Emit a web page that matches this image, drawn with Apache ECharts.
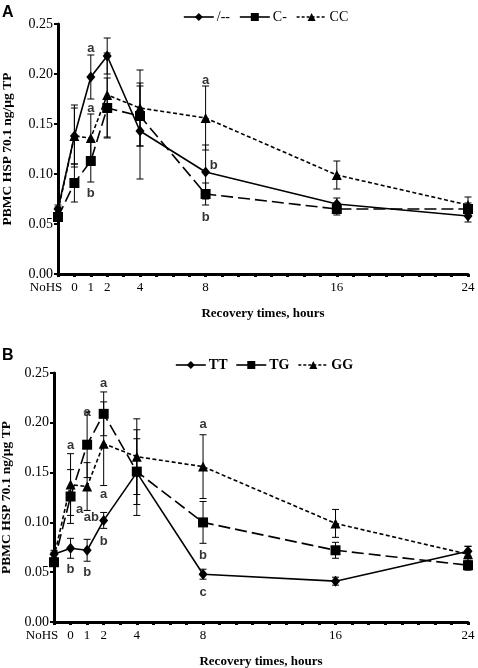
<!DOCTYPE html>
<html><head><meta charset="utf-8">
<script src="https://cdn.jsdelivr.net/npm/echarts@6/dist/echarts.min.js"></script>
<style>html,body{margin:0;padding:0;background:#fff}#c{width:478px;height:668px}</style>
</head><body><div id="c"></div>
<script>
// ---- data ----
const hours = [-1, 0, 1, 2, 4, 8, 16, 24];
const labelHours = [0, 1, 2, 4, 8, 16, 24];
const noHsHour = -1;
const noHsLabel = 'NoHS';
const yAxisTitle = 'PBMC HSP 70.1 ng/µg TP';
const xAxisTitle = 'Recovery times, hours';

const namesA = ['/--', 'C-', 'CC'];
const A_wt = [0.065, 0.138, 0.197, 0.218, 0.143, 0.102, 0.070, 0.058];
const A_wt_err = [0.004, 0.028, 0.022, 0.018, 0.048, 0.027, 0.006, 0.006];
const A_cm = [0.057, 0.091, 0.113, 0.166, 0.158, 0.080, 0.065, 0.065];
const A_cm_err = [0.004, 0.019, 0.021, 0.030, 0.030, 0.011, 0.006, 0.006];
const A_cc = [0.063, 0.138, 0.136, 0.179, 0.166, 0.156, 0.099, 0.069];
const A_cc_err = [0.004, 0.031, 0.024, 0.042, 0.038, 0.032, 0.014, 0.008];
const lettersA = [[1, 0.226, 'a'], [1, 0.166, 'a'], [1, 0.081, 'b'], [8, 0.194, 'a'], [8.5, 0.109, 'b'], [8, 0.057, 'b']];

const namesB = ['TT', 'TG', 'GG'];
const B_tt = [0.068, 0.074, 0.072, 0.102, 0.150, 0.048, 0.041, 0.071];
const B_tt_err = [0.004, 0.010, 0.011, 0.008, 0.043, 0.005, 0.004, 0.005];
const B_tg = [0.060, 0.126, 0.178, 0.209, 0.151, 0.100, 0.072, 0.057];
const B_tg_err = [0.004, 0.027, 0.033, 0.022, 0.033, 0.021, 0.008, 0.005];
const B_gg = [0.065, 0.138, 0.136, 0.179, 0.166, 0.156, 0.099, 0.068];
const B_gg_err = [0.005, 0.031, 0.024, 0.042, 0.038, 0.032, 0.014, 0.008];
const lettersB = [[0, 0.177, 'a'], [1, 0.210, 'a'], [2, 0.240, 'a'], [2, 0.128, 'a'], [0.55, 0.113, 'a'], [1.25, 0.105, 'ab'],
  [0, 0.053, 'b'], [1, 0.050, 'b'], [2, 0.081, 'b'], [8, 0.067, 'b'], [8, 0.030, 'c'], [8, 0.198, 'a']];

// ---- styles ----
const serif = 'Liberation Serif';
const sans = 'Liberation Sans';
const styles = [
  { symbol: 'diamond', symbolSize: [9, 11], line: { type: 'solid', width: 1.6 } },
  { symbol: 'rect', symbolSize: 10, line: { type: [12, 5], width: 1.6 } },
  { symbol: 'triangle', symbolSize: 10, line: { type: [4, 2.5], width: 1.6 } }
];

function zip(ys) { return hours.map((h, i) => [h, ys[i]]); }
function zipE(ys, es) { return hours.map((h, i) => [h, ys[i], es[i]]); }

function renderErr(params, api) {
  const x = api.value(0), y = api.value(1), e = api.value(2);
  const t = api.coord([x, y + e]), b = api.coord([x, y - e]);
  const w = 3.5, st = { stroke: '#000', lineWidth: 1 };
  return { type: 'group', children: [
    { type: 'line', shape: { x1: t[0], y1: t[1], x2: b[0], y2: b[1] }, style: st },
    { type: 'line', shape: { x1: t[0] - w, y1: t[1], x2: t[0] + w, y2: t[1] }, style: st },
    { type: 'line', shape: { x1: b[0] - w, y1: b[1], x2: b[0] + w, y2: b[1] }, style: st }
  ] };
}

function xAxisFor(gi) {
  return {
    gridIndex: gi, type: 'value', min: -1, max: 24, interval: 1, position: 'bottom',
    name: xAxisTitle, nameLocation: 'middle', nameGap: 33,
    nameTextStyle: { fontFamily: serif, fontWeight: 'bold', fontSize: 13, color: '#000' },
    axisLine: { show: true, onZero: false, lineStyle: { color: '#000', width: 3 } },
    axisTick: { show: true, length: 3, lineStyle: { color: '#000', width: 3 } },
    axisLabel: { color: '#000', fontFamily: serif, fontSize: 13, margin: 7, customValues: labelHours,
      formatter: v => String(v) },
    splitLine: { show: false }
  };
}
function noHsAxisFor(gi) {
  return {
    gridIndex: gi, type: 'value', min: -1, max: 24, position: 'bottom',
    axisLine: { show: false, onZero: false }, axisTick: { show: false }, splitLine: { show: false },
    axisLabel: { color: '#000', fontFamily: serif, fontSize: 13, margin: 7, customValues: [noHsHour],
      formatter: () => noHsLabel, padding: [0, 24, 0, 0] }
  };
}
function yAxisFor(gi, gap) {
  return {
    gridIndex: gi, type: 'value', min: 0, max: 0.25, interval: 0.05,
    name: yAxisTitle, nameLocation: 'middle', nameGap: gap,
    nameTextStyle: { fontFamily: serif, fontWeight: 'bold', fontSize: 13.5, color: '#000' },
    axisLine: { show: true, onZero: false, lineStyle: { color: '#000', width: 3 } },
    axisTick: { show: true, length: 4, lineStyle: { color: '#000', width: 2 } },
    axisLabel: { color: '#000', fontFamily: serif, fontSize: 14, margin: 5, formatter: v => v.toFixed(2) },
    splitLine: { show: false }
  };
}

function panelSeries(gi, names, ys, es, letters) {
  const out = [];
  for (let k = 0; k < 3; k++) {
    out.push({
      type: 'custom', xAxisIndex: gi, yAxisIndex: gi, renderItem: renderErr, z: 2,
      data: zipE(ys[k], es[k]), encode: { x: 0, y: 1 }, silent: true, clip: false
    });
  }
  for (let k = 0; k < 3; k++) {
    out.push({
      type: 'line', name: names[k], xAxisIndex: gi, yAxisIndex: gi, data: zip(ys[k]),
      symbol: styles[k].symbol, symbolSize: styles[k].symbolSize, showAllSymbol: true,
      lineStyle: { color: '#000', width: styles[k].line.width, type: styles[k].line.type },
      itemStyle: { color: '#000' }, z: 3 + (2 - k), animation: false
    });
  }
  out.push({
    type: 'scatter', xAxisIndex: gi, yAxisIndex: gi, data: letters, symbolSize: 1,
    itemStyle: { color: 'rgba(0,0,0,0)' }, z: 6, silent: true,
    label: { show: true, position: 'inside', formatter: p => p.value[2], color: '#000',
      fontFamily: sans, fontWeight: 'bold', fontSize: 13 }
  });
  return out;
}

function legendFor(names, top, left, bold, gap) {
  return {
    top: top, left: left, itemWidth: 30, itemHeight: 10, itemGap: gap, padding: 0,
    textStyle: { fontFamily: serif, fontSize: 14, color: '#000', fontWeight: bold ? 'bold' : 'normal', padding: [0, 0, 0, -2] },
    data: names.map((n, k) => ({ name: n, lineStyle: { type: k === 2 ? [3, 2] : 'solid', color: '#000', width: 1.6 } })),
    selectedMode: false
  };
}

const chart = echarts.init(document.getElementById('c'), null, { renderer: 'canvas' });
chart.setOption({
  animation: false,
  backgroundColor: '#fff',
  grid: [
    { left: 58, top: 24, width: 410, height: 250, containLabel: false, outerBoundsMode: 'none' },
    { left: 54, top: 373, width: 414, height: 249, containLabel: false, outerBoundsMode: 'none' }
  ],
  xAxis: [xAxisFor(0), xAxisFor(1), noHsAxisFor(0), noHsAxisFor(1)],
  yAxis: [yAxisFor(0, 43), yAxisFor(1, 39)],
  legend: [legendFor(namesA, 10, 183, false, 9), legendFor(namesB, 358, 175, true, 8)],
  graphic: [
    { type: 'text', left: 2, top: 5, style: { text: 'A', font: 'bold 16px "Liberation Sans"', fill: '#000' } },
    { type: 'text', left: 2, top: 348, style: { text: 'B', font: 'bold 16px "Liberation Sans"', fill: '#000' } }
  ],
  series: [
    ...panelSeries(0, namesA, [A_wt, A_cm, A_cc], [A_wt_err, A_cm_err, A_cc_err], lettersA),
    ...panelSeries(1, namesB, [B_tt, B_tg, B_gg], [B_tt_err, B_tg_err, B_gg_err], lettersB)
  ]
});
</script></body></html>
